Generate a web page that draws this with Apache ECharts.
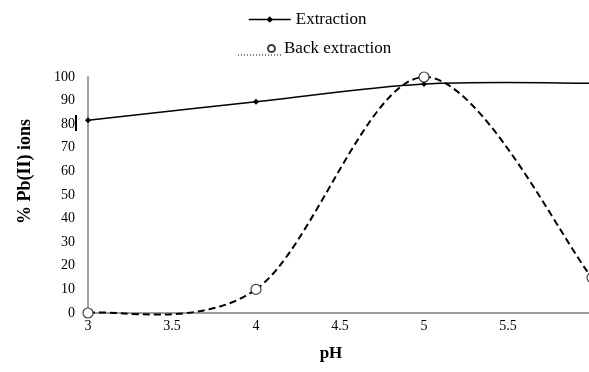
<!DOCTYPE html>
<html><head><meta charset="utf-8">
<script src="https://cdn.jsdelivr.net/npm/echarts@6/dist/echarts.min.js"></script>
<style>html,body{margin:0;padding:0;background:#fff}#c{width:589px;height:372px}</style>
</head><body><div id="c"></div>
<script>
var pH = [3, 4, 5, 6];
var extraction = [81.7, 89.5, 97, 97.4];
var backExtraction = [0, 10, 100, 15];
var yTicks = [0, 10, 20, 30, 40, 50, 60, 70, 80, 90, 100];
var xTicks = [3, 3.5, 4, 4.5, 5, 5.5, 6];

var font = 'Liberation Serif';

function pairs(xs, ys) { return xs.map(function (x, i) { return [x, ys[i]]; }); }

// Spreadsheet-style smoothed curve (Catmull-Rom Bezier) through the data points, mapped with api.coord
function curveRenderer(xs, ys, style) {
  return function (params, api) {
    if (params.dataIndex !== 0) return null;
    var p = xs.map(function (x, i) { return api.coord([x, ys[i]]); });
    var n = p.length, children = [];
    for (var i = 0; i < n - 1; i++) {
      var a = p[i - 1] || p[i], b = p[i], c = p[i + 1], d = p[i + 2] || p[i + 1];
      children.push({
        type: 'bezierCurve',
        shape: {
          x1: b[0], y1: b[1], x2: c[0], y2: c[1],
          cpx1: b[0] + (c[0] - a[0]) / 6, cpy1: b[1] + (c[1] - a[1]) / 6,
          cpx2: c[0] - (d[0] - b[0]) / 6, cpy2: c[1] - (d[1] - b[1]) / 6
        },
        style: style
      });
    }
    return {type: 'group', children: children};
  };
}

var chart = echarts.init(document.getElementById('c'));
chart.setOption({
  animation: false,
  textStyle: {fontFamily: font},
  legend: [
    {
      left: 243, top: 6, itemWidth: 42, itemHeight: 8,
      lineStyle: {opacity: 1, color: '#000', width: 1.5},
      textStyle: {fontFamily: font, fontSize: 17, color: '#000'},
      data: ['Extraction']
    },
    {
      left: 262, top: 35, itemWidth: 7, itemHeight: 7,
      textStyle: {fontFamily: font, fontSize: 17, color: '#000', padding: [0, 0, 0, 4]},
      data: [{name: 'Back extraction', icon: 'circle'}]
    }
  ],
  grid: {left: 88, width: 504, top: 77, bottom: 59, outerBoundsMode: 'none', containLabel: false},
  xAxis: {
    type: 'value', min: xTicks[0], max: xTicks[xTicks.length - 1], interval: 0.5,
    name: 'pH', nameLocation: 'middle', nameGap: 32,
    nameTextStyle: {fontFamily: font, fontSize: 17, fontWeight: 'bold', color: '#000', padding: [0, 18, 0, 0]},
    axisLine: {lineStyle: {color: '#7f7f7f', width: 1.5}},
    axisTick: {show: false},
    splitLine: {show: false},
    axisLabel: {fontFamily: font, fontSize: 14, color: '#000', margin: 6, showMaxLabel: true, hideOverlap: false}
  },
  yAxis: {
    type: 'value', min: yTicks[0], max: yTicks[yTicks.length - 1], interval: 10,
    name: '% Pb(II) ions', nameLocation: 'middle', nameGap: 54, nameRotate: 90,
    nameTextStyle: {fontFamily: font, fontSize: 18, fontWeight: 'bold', color: '#000', padding: [0, 0, 0, 47]},
    axisLine: {show: true, lineStyle: {color: '#7f7f7f', width: 1.5}},
    axisTick: {show: false},
    splitLine: {show: false},
    axisLabel: {fontFamily: font, fontSize: 14, color: '#000', margin: 13}
  },
  series: [
    {
      name: 'Extraction curve', type: 'custom', z: 1, silent: true,
      data: pairs(pH, extraction),
      renderItem: curveRenderer(pH, extraction, {stroke: '#000', fill: null, lineWidth: 1.5})
    },
    {
      name: 'Back extraction curve', type: 'custom', z: 1, silent: true,
      data: pairs(pH, backExtraction),
      renderItem: curveRenderer(pH, backExtraction, {stroke: '#000', fill: null, lineWidth: 2, lineDash: [7, 4]})
    },
    {
      name: 'Extraction', type: 'line', z: 3,
      data: pairs(pH, extraction),
      symbol: 'diamond', symbolSize: 6, clip: false,
      lineStyle: {color: '#000', width: 1.5, opacity: 0},
      itemStyle: {color: '#000'}
    },
    {
      name: 'Back extraction', type: 'line', z: 3,
      data: pairs(pH, backExtraction),
      symbol: 'circle', symbolSize: 10, showAllSymbol: true, clip: false,
      lineStyle: {color: '#000', width: 2, opacity: 0},
      itemStyle: {color: '#fff', borderColor: '#404040', borderWidth: 1.2}
    }
  ],
  graphic: [
    {type: 'rect', left: 75, top: 115, shape: {width: 2, height: 16}, style: {fill: '#000'}},
    {type: 'line', shape: {x1: 238, y1: 55, x2: 282, y2: 55}, style: {stroke: '#000', lineWidth: 1, lineDash: [1, 2]}}
  ]
});
</script></body></html>
